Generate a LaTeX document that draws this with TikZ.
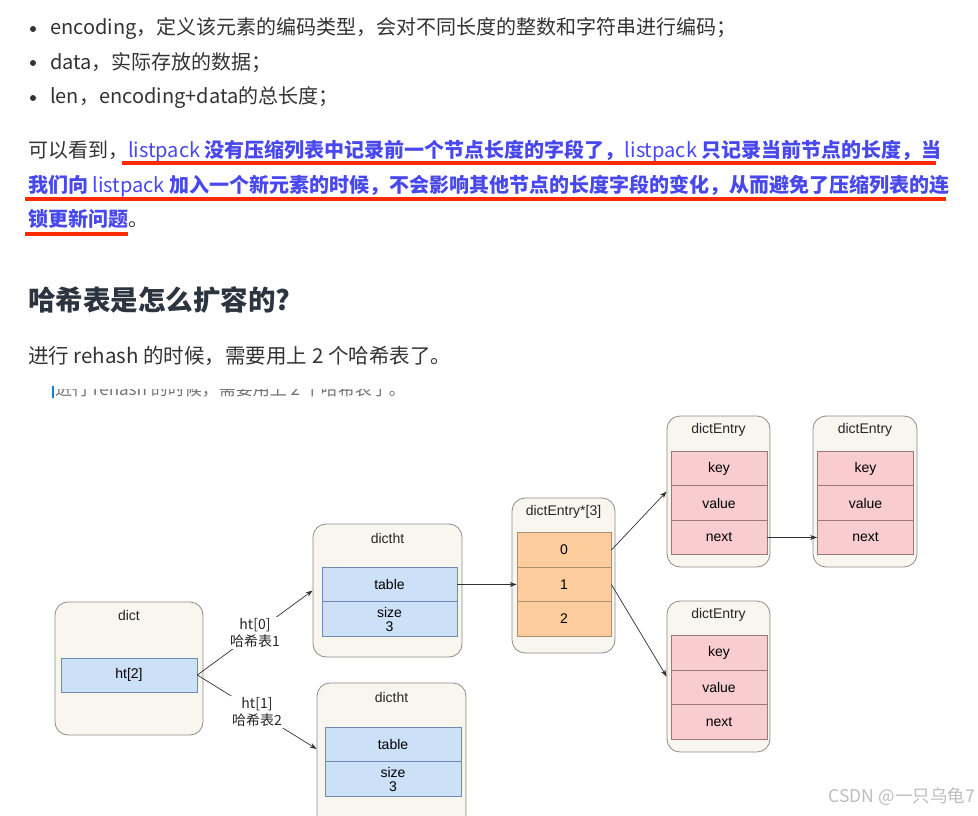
\documentclass[tikz,border=0pt]{standalone}
\usepackage{fontspec}
\setmainfont{Noto Sans CJK SC}
\newfontfamily\dg{Liberation Sans}
\newfontfamily\cjk{Noto Sans CJK SC}
\usetikzlibrary{arrows.meta}
\definecolor{txt}{HTML}{333333}
\definecolor{head}{HTML}{2C3440}
\definecolor{bluet}{HTML}{4848EE}
\definecolor{redl}{HTML}{FF2A00}
\definecolor{beige}{HTML}{F8F6EE}
\definecolor{boxgray}{HTML}{8C8C8C}
\definecolor{lblue}{HTML}{CCE0F8}
\definecolor{bblue}{HTML}{6F8BB0}
\definecolor{orng}{HTML}{FDCC9C}
\definecolor{borng}{HTML}{A89070}
\definecolor{pink}{HTML}{F9CDCF}
\definecolor{bpink}{HTML}{9C7878}
\definecolor{wm}{HTML}{BDBDBD}
\begin{document}
\begin{tikzpicture}[x=1pt,y=-1pt,
  outerbox/.style={draw=boxgray, fill=beige, rounded corners=13pt, line width=0.8pt, inner sep=0pt},
  bluecell/.style={draw=bblue, fill=lblue, line width=0.8pt, inner sep=0pt, font=\dg\fontsize{14}{15}\selectfont, align=center},
  orcell/.style={draw=borng, fill=orng, line width=0.8pt, inner sep=0pt, font=\dg\fontsize{14}{16}\selectfont, minimum width=94pt, minimum height=34.5pt},
  pkcell/.style={draw=bpink, fill=pink, line width=0.8pt, inner sep=0pt, font=\dg\fontsize{14}{16}\selectfont, minimum width=96pt, minimum height=34.5pt},
  ttl/.style={font=\dg\fontsize{14}{16}\selectfont, text=black!85, inner sep=0pt},
  arr/.style={-{Stealth[length=7pt,width=5pt]}, line width=0.7pt, draw=black!80},
  lab/.style={fill=white, inner sep=1pt, align=center, font=\cjk\fontsize{14}{17}\selectfont, text=black!85},
  bodytext/.style={anchor=west, inner sep=0pt, text=txt, font=\fontsize{20}{22}\selectfont},
  ul/.style={draw=redl, line width=3.5pt}
]
\useasboundingbox (0,0) rectangle (978,816);
\clip (0,0) rectangle (978,816);
\fill[white] (0,0) rectangle (978,816);

% bullets
\foreach \yy/\nm in {29/b1,63/b2,98/b3} \fill[txt] (33,\yy) circle (3pt);
\node[bodytext] (t1) at (50,29) {encoding，定义该元素的编码类型，会对不同长度的整数和字符串进行编码；};
\node[bodytext] (t2) at (50,63) {data，实际存放的数据；};
\node[bodytext] (t3) at (50,98) {len，encoding+data的总长度；};

% paragraph
\node[bodytext,font=\fontsize{20}{24}\selectfont] (p1) at (28,151) {可以看到，\textcolor{bluet}{listpack \textbf{没有压缩列表中记录前一个节点长度的字段了，}listpack \textbf{只记录当前节点的长度，当}}};
\node[bodytext,font=\fontsize{20}{24}\selectfont] (p2) at (28,186) {\textcolor{bluet}{\textbf{我们向} listpack \textbf{加入一个新元素的时候，不会影响其他节点的长度字段的变化，从而避免了压缩列表的连}}};
\node[bodytext,font=\fontsize{20}{24}\selectfont] (p3) at (28,219) {\textcolor{bluet}{\textbf{锁更新问题}}。};
\draw[ul] (122,163) -- (936,163);
\draw[ul] (25,199) -- (946,199);
\draw[ul] (25,234) -- (128,234);

% heading
\node[bodytext,text=head,font=\fontsize{27.5}{30}\selectfont\bfseries] (h) at (28,300) {哈希表是怎么扩容的?};
\node[bodytext,font=\fontsize{20.5}{24}\selectfont] (r) at (28,356) {进行 rehash 的时候，需要用上 2 个哈希表了。};

% clipped ghost line
\begin{scope}
\clip (40,389) rectangle (500,400);
\node[bodytext,text=black!55,font=\fontsize{17}{20}\selectfont] (ghost) at (55,389) {进行 rehash 的时候，需要用上 2 个哈希表了。};
\end{scope}
\draw[draw=blue!50!cyan, line width=1.2pt] (53,386) -- (53,398);

% diagram boxes
\node[outerbox, minimum width=148pt, minimum height=133pt] (dict) at (129,668.5) {};
\node[ttl] (dictT) at (129,615) {dict};
\node[bluecell, minimum width=136pt, minimum height=34pt] (ht) at (129,675) {ht[2]};

\node[outerbox, minimum width=149pt, minimum height=133pt] (dh1) at (387.5,590.5) {};
\node[ttl] (dh1T) at (387.5,538) {dictht};
\node[bluecell, minimum width=135pt, minimum height=34.5pt] (tab1) at (389.5,584.5) {table};
\node[bluecell, minimum width=135pt, minimum height=34.5pt] (sz1) at (389.5,619) {size\\[-1pt]3};

\node[outerbox, minimum width=149pt, minimum height=150pt] (dh2) at (391.5,758) {};
\node[ttl] (dh2T) at (391.5,697) {dictht};
\node[bluecell, minimum width=136pt, minimum height=34.5pt] (tab2) at (393,744.5) {table};
\node[bluecell, minimum width=136pt, minimum height=34.5pt] (sz2) at (393,779) {size\\[-1pt]3};

\node[outerbox, minimum width=103pt, minimum height=155pt] (arrbox) at (563.5,575.5) {};
\node[ttl] (arrT) at (563.5,512) {dictEntry*[3]};
\node[orcell] (c0) at (564,550) {0};
\node[orcell] (c1) at (564,584.5) {1};
\node[orcell] (c2) at (564,619) {2};

\node[outerbox, minimum width=103pt, minimum height=151pt] (e1) at (718.5,491.5) {};
\node[ttl] (e1T) at (718.5,430) {dictEntry};
\node[pkcell] (k1) at (719,468.5) {key};
\node[pkcell] (v1) at (719,503) {value};
\node[pkcell] (n1) at (719,537.5) {next};

\node[outerbox, minimum width=104pt, minimum height=151pt] (e2) at (865,491.5) {};
\node[ttl] (e2T) at (865,430) {dictEntry};
\node[pkcell] (k2) at (865.5,468.5) {key};
\node[pkcell] (v2) at (865.5,503) {value};
\node[pkcell] (n2) at (865.5,537.5) {next};

\node[outerbox, minimum width=103pt, minimum height=151pt] (e3) at (718.5,676.5) {};
\node[ttl] (e3T) at (718.5,615) {dictEntry};
\node[pkcell] (k3) at (719,653) {key};
\node[pkcell] (v3) at (719,687.5) {value};
\node[pkcell] (n3) at (719,722) {next};

% connectors
\coordinate (dh2in) at (dh2.west |- 0,749);
\draw[arr] (ht.east) -- (dh1.west);
\node[lab] (l0) at (255,633) {ht[0]\\哈希表1};
\draw[arr] (ht.east) -- (dh2in);
\node[lab] (l1) at (257,712) {ht[1]\\哈希表2};
\draw[arr] (tab1.east) -- (c1.west);
\draw[arr] (c0.east) -- (e1.west);
\draw[arr] (c1.east) -- (e3.west);
\draw[arr] (n1.east) -- (n2.west);

% watermark
\node[anchor=east, inner sep=0pt, text=wm, font=\cjk\fontsize{17.5}{18}\selectfont] (wmk) at (975,797) {CSDN @一只乌龟7};
\end{tikzpicture}
\end{document}
